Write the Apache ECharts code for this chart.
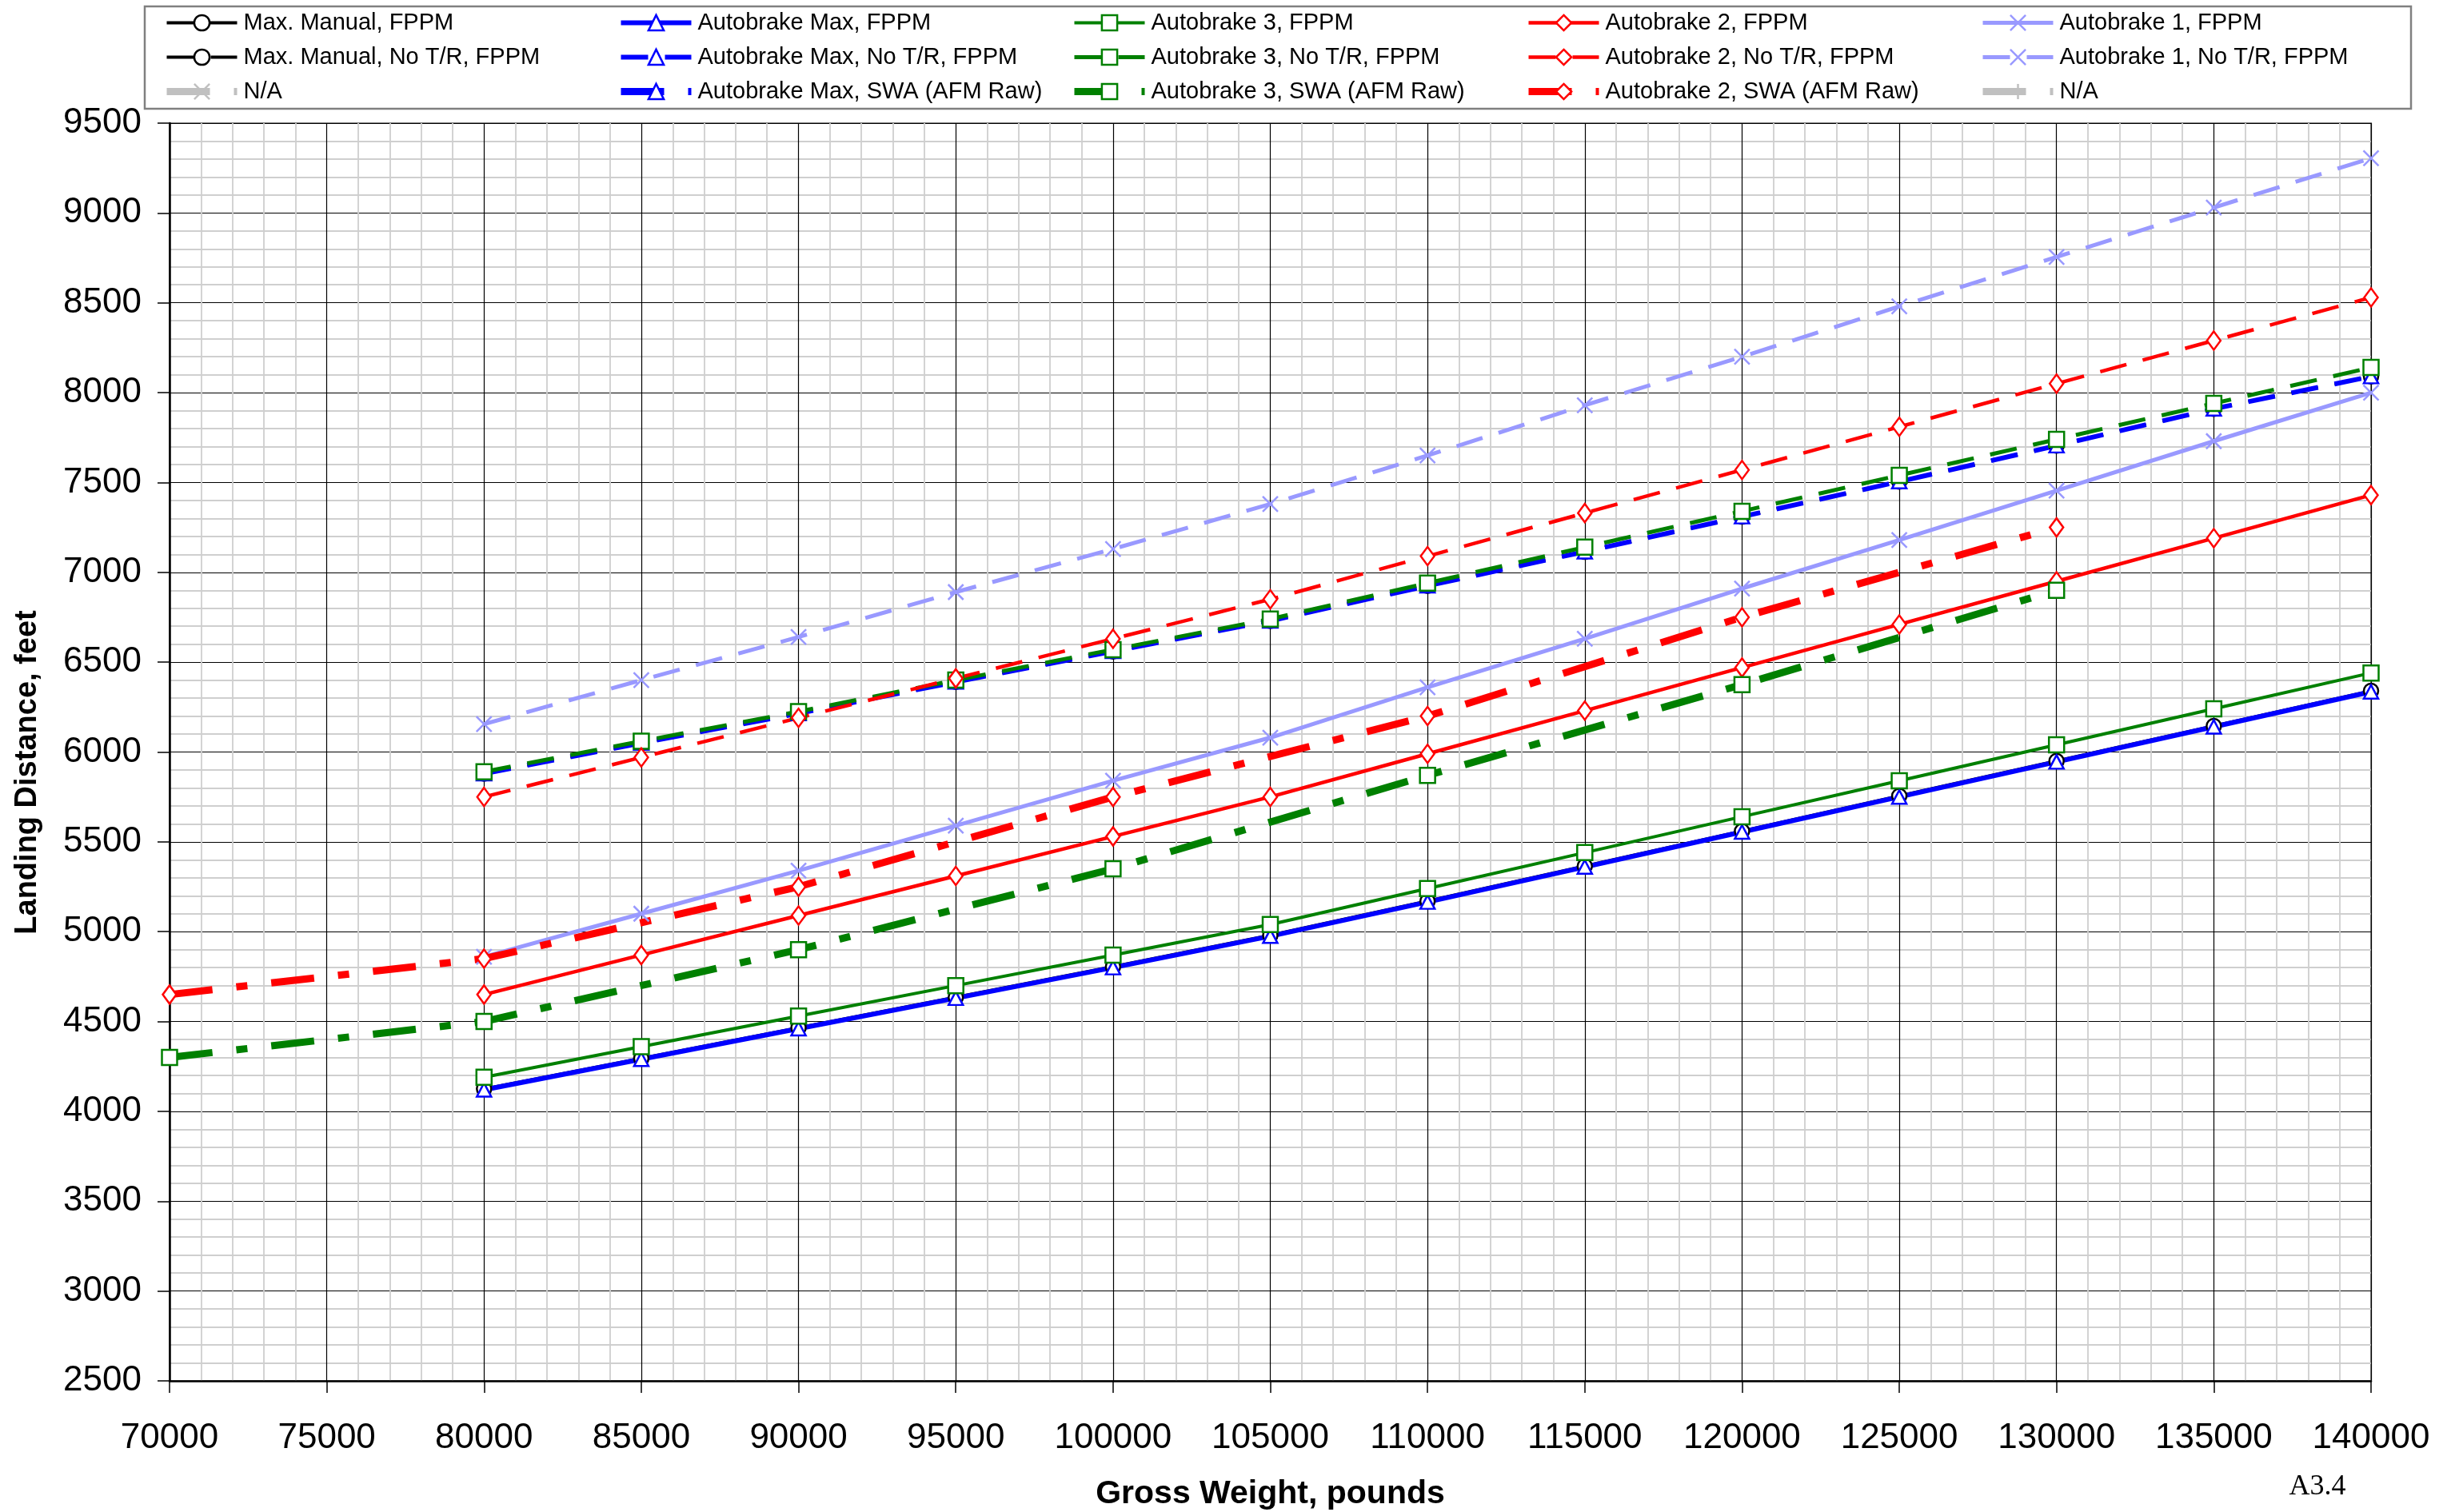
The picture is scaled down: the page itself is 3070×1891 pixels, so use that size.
<!DOCTYPE html>
<html>
<head>
<meta charset="utf-8">
<title>Landing Distance vs Gross Weight</title>
<script src="https://cdn.jsdelivr.net/npm/echarts@6/dist/echarts.min.js"></script>
<style>
  html, body { margin: 0; padding: 0; background: #fff; }
  #chart { width: 3070px; height: 1891px; }
</style>
</head>
<body>
<div id="chart"></div>
<script>
// gross weight, pounds
var weights = [80000, 85000, 90000, 95000, 100000, 105000, 110000, 115000, 120000, 125000, 130000, 135000, 140000];
var swaWeights = [70000, 80000, 90000, 100000, 110000, 120000, 130000];

// landing distance, feet
var maxManualFppm = [4125, 4295, 4465, 4635, 4805, 4980, 5170, 5365, 5560, 5755, 5950, 6145, 6340];
var abMaxFppm     = [4120, 4290, 4460, 4630, 4800, 4975, 5165, 5360, 5555, 5750, 5945, 6140, 6335];
var ab3Fppm       = [4190, 4360, 4530, 4700, 4870, 5040, 5240, 5440, 5640, 5840, 6040, 6240, 6440];
var ab2Fppm       = [4650, 4870, 5090, 5310, 5530, 5750, 5990, 6230, 6470, 6710, 6950, 7190, 7430];
var ab1Fppm       = [4860, 5100, 5340, 5590, 5840, 6080, 6360, 6630, 6910, 7180, 7455, 7730, 8000];

var maxManualNoTR = [5880, 6050, 6215, 6390, 6560, 6730, 6925, 7115, 7310, 7505, 7705, 7910, 8090];
var abMaxNoTR     = [5880, 6050, 6215, 6390, 6560, 6730, 6925, 7115, 7310, 7505, 7705, 7910, 8090];
var ab3NoTR       = [5890, 6060, 6225, 6400, 6570, 6740, 6940, 7140, 7340, 7540, 7740, 7940, 8140];
var ab2NoTR       = [5750, 5970, 6190, 6410, 6630, 6850, 7090, 7330, 7570, 7810, 8050, 8290, 8530];
var ab1NoTR       = [6155, 6400, 6640, 6890, 7130, 7380, 7650, 7930, 8200, 8480, 8755, 9030, 9305];

var ab3Swa = [4300, 4500, 4900, 5350, 5870, 6375, 6900];
var ab2Swa = [4650, 4850, 5250, 5750, 6200, 6750, 7250];
var abMaxSwa = [];
var naValues = [];

var legendCols = [
  ['Max. Manual, FPPM', 'Max. Manual, No T/R, FPPM', 'N/A #1'],
  ['Autobrake Max, FPPM', 'Autobrake Max, No T/R, FPPM', 'Autobrake Max, SWA (AFM Raw)'],
  ['Autobrake 3, FPPM', 'Autobrake 3, No T/R, FPPM', 'Autobrake 3, SWA (AFM Raw)'],
  ['Autobrake 2, FPPM', 'Autobrake 2, No T/R, FPPM', 'Autobrake 2, SWA (AFM Raw)'],
  ['Autobrake 1, FPPM', 'Autobrake 1, No T/R, FPPM', 'N/A #2']
];

var FONT = 'Liberation Sans, Arial, sans-serif';
var DASH = [34, 21];
var DASHDOT = [54, 30, 14, 30];
var XMARK = 'path://M0,0L10,10M10,0L0,10';
var PLUS = 'path://M5,0L5,10M0,5L10,5';

function pairs(xs, ys) {
  return ys.map(function (y, i) { return [xs[i], y]; });
}

function line(name, xs, ys, color, symbol, size, width, dash) {
  var open = symbol !== XMARK && symbol !== PLUS;
  return {
    name: name,
    type: 'line',
    data: pairs(xs, ys),
    symbol: symbol,
    symbolSize: size,
    showAllSymbol: true,
    lineStyle: { color: color, width: width, type: dash || 'solid', cap: 'butt' },
    itemStyle: { color: open ? '#ffffff' : color, borderColor: color, borderWidth: 2.5 },
    emphasis: { disabled: true }
  };
}

function plain(v) { return String(v); }

var chart = echarts.init(document.getElementById('chart'));

var option = {
  animation: false,
  backgroundColor: '#ffffff',
  grid: {
    left: 212, right: 105, top: 154, bottom: 164,
    outerBoundsMode: 'none',
    show: true, borderColor: '#808080', borderWidth: 2, backgroundColor: 'transparent'
  },
  legend: legendCols.map(function (names, i) {
    return {
      orient: 'vertical',
      left: [199, 767, 1334, 1902, 2470][i],
      top: 9,
      itemWidth: 88,
      itemHeight: 24,
      itemGap: 14,
      selectedMode: false,
      data: names,
      formatter: function (n) { return n.indexOf('N/A') === 0 ? 'N/A' : n; },
      textStyle: { fontFamily: FONT, fontSize: 29, color: '#000', padding: [0, 0, 0, 3] },
      lineStyle: { width: 'inherit' },
      itemStyle: { borderWidth: 'inherit' }
    };
  }),
  xAxis: {
    type: 'value',
    min: 70000, max: 140000, interval: 5000,
    name: 'Gross Weight, pounds',
    nameLocation: 'middle',
    nameGap: 121,
    nameTextStyle: { fontFamily: FONT, fontSize: 41, fontWeight: 'bold', color: '#000' },
    axisLine: { show: true, onZero: false, lineStyle: { color: '#000', width: 2.5 } },
    axisTick: { show: true, length: 15, lineStyle: { color: '#000', width: 1.5 } },
    axisLabel: { fontFamily: FONT, fontSize: 44, color: '#000', margin: 50, formatter: plain },
    splitLine: { show: true, lineStyle: { color: '#000', width: 1.2 } },
    minorTick: { show: false, splitNumber: 5 },
    minorSplitLine: { show: true, lineStyle: { color: '#cfcfcf', width: 1.8 } }
  },
  yAxis: {
    type: 'value',
    min: 2500, max: 9500, interval: 500,
    axisLine: { show: true, onZero: false, lineStyle: { color: '#000', width: 2.5 } },
    axisTick: { show: true, length: 15, lineStyle: { color: '#000', width: 1.5 } },
    axisLabel: { fontFamily: FONT, fontSize: 44, color: '#000', margin: 35, formatter: plain },
    splitLine: { show: true, lineStyle: { color: '#000', width: 1.2 } },
    minorTick: { show: false, splitNumber: 5 },
    minorSplitLine: { show: true, lineStyle: { color: '#cfcfcf', width: 1.8 } }
  },
  graphic: [
    {
      type: 'rect', z: -1,
      shape: { x: 181, y: 8, width: 2834, height: 128 },
      style: { fill: '#ffffff', stroke: '#808080', lineWidth: 2.5 }
    },
    {
      type: 'text', x: 35, y: 966, rotation: Math.PI / 2,
      style: {
        text: 'Landing Distance, feet', fill: '#000',
        font: 'bold 38px ' + FONT, align: 'center', verticalAlign: 'middle'
      }
    },
    {
      type: 'text', x: 2898, y: 1860,
      style: {
        text: 'A3.4', fill: '#000',
        font: '36px Liberation Serif, Times New Roman, serif', align: 'center', verticalAlign: 'middle'
      }
    }
  ],
  series: [
    line('Max. Manual, FPPM', weights, maxManualFppm, '#000000', 'circle', 18, 4),
    line('Autobrake Max, FPPM', weights, abMaxFppm, '#0000ff', 'triangle', [18, 17], 6),
    line('Autobrake 3, FPPM', weights, ab3Fppm, '#008000', 'rect', 19, 4),
    line('Autobrake 2, FPPM', weights, ab2Fppm, '#ff0000', 'diamond', [17, 23], 4.5),
    line('Autobrake 1, FPPM', weights, ab1Fppm, '#9999ff', XMARK, 19, 5),

    line('Max. Manual, No T/R, FPPM', weights, maxManualNoTR, '#000000', 'circle', 18, 4, DASH),
    line('Autobrake Max, No T/R, FPPM', weights, abMaxNoTR, '#0000ff', 'triangle', [18, 17], 6, DASH),
    line('Autobrake 3, No T/R, FPPM', weights, ab3NoTR, '#008000', 'rect', 19, 5, DASH),
    line('Autobrake 2, No T/R, FPPM', weights, ab2NoTR, '#ff0000', 'diamond', [17, 23], 4.5, DASH),
    line('Autobrake 1, No T/R, FPPM', weights, ab1NoTR, '#9999ff', XMARK, 19, 5, DASH),

    line('N/A #1', weights, naValues, '#c0c0c0', XMARK, 19, 9, DASHDOT),
    line('Autobrake Max, SWA (AFM Raw)', swaWeights, abMaxSwa, '#0000ff', 'triangle', [18, 17], 9, DASHDOT),
    line('Autobrake 3, SWA (AFM Raw)', swaWeights, ab3Swa, '#008000', 'rect', 19, 9, DASHDOT),
    line('Autobrake 2, SWA (AFM Raw)', swaWeights, ab2Swa, '#ff0000', 'diamond', [17, 23], 9, DASHDOT),
    line('N/A #2', weights, naValues, '#c0c0c0', PLUS, 19, 9, DASHDOT)
  ]
};

chart.setOption(option);
</script>
</body>
</html>
